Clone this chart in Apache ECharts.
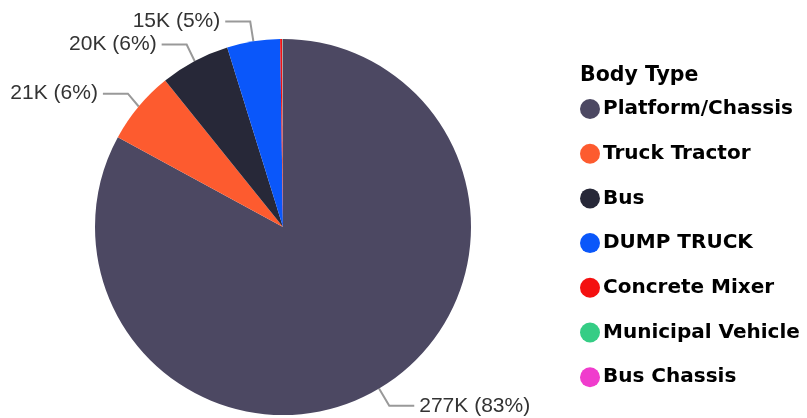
<!DOCTYPE html>
<html>
<head>
<meta charset="utf-8">
<script src="https://cdn.jsdelivr.net/npm/echarts@6/dist/echarts.min.js"></script>
<style>
  html, body { margin: 0; padding: 0; background: #fff; }
  #chart { width: 807px; height: 418px; }
</style>
</head>
<body>
<div id="chart"></div>
<script>
// body types and counts
const bodyTypes = ['Platform/Chassis', 'Truck Tractor', 'Bus', 'DUMP TRUCK', 'Concrete Mixer', 'Municipal Vehicle', 'Bus Chassis'];
const counts = [277000, 21000, 20000, 15200, 600, 150, 60];
const colors = ['#4c4862', '#fd5b2f', '#272838', '#0a57fa', '#f41010', '#35cd85', '#f03ccd'];

let myChart = echarts.init(document.getElementById('chart'));

let option = {
    color: colors,
    title: {
        text: 'Body Type',
        left: 575,
        top: 60,
        textStyle: { fontFamily: 'DejaVu Sans', fontWeight: 'bold', fontSize: 20.5, color: '#000' }
    },
    legend: {
        orient: 'vertical',
        left: 575,
        top: 94,
        icon: 'circle',
        itemWidth: 20,
        itemHeight: 20,
        itemGap: 24.7,
        data: bodyTypes,
        textStyle: { fontFamily: 'DejaVu Sans', fontWeight: 'bold', fontSize: 20, color: '#000', padding: [0, 0, 0, -2] }
    },
    series: [
        {
            type: 'pie',
            center: [283, 227],
            radius: 188,
            startAngle: 90,
            minShowLabelAngle: 3,
            label: {
                show: true,
                fontFamily: 'Liberation Sans',
                fontSize: 21,
                color: '#333',
                formatter: function (p) {
                    return Math.round(p.value / 1000) + 'K (' + Math.round(p.percent) + '%)';
                }
            },
            labelLine: {
                length: 20,
                length2: 25,
                lineStyle: { color: '#999', width: 2 }
            },
            emphasis: { scale: false },
            data: bodyTypes.map((name, i) => ({ name: name, value: counts[i] }))
        }
    ]
};
myChart.setOption(option);
window.addEventListener('resize', function () { myChart.resize(); });
</script>
</body>
</html>
